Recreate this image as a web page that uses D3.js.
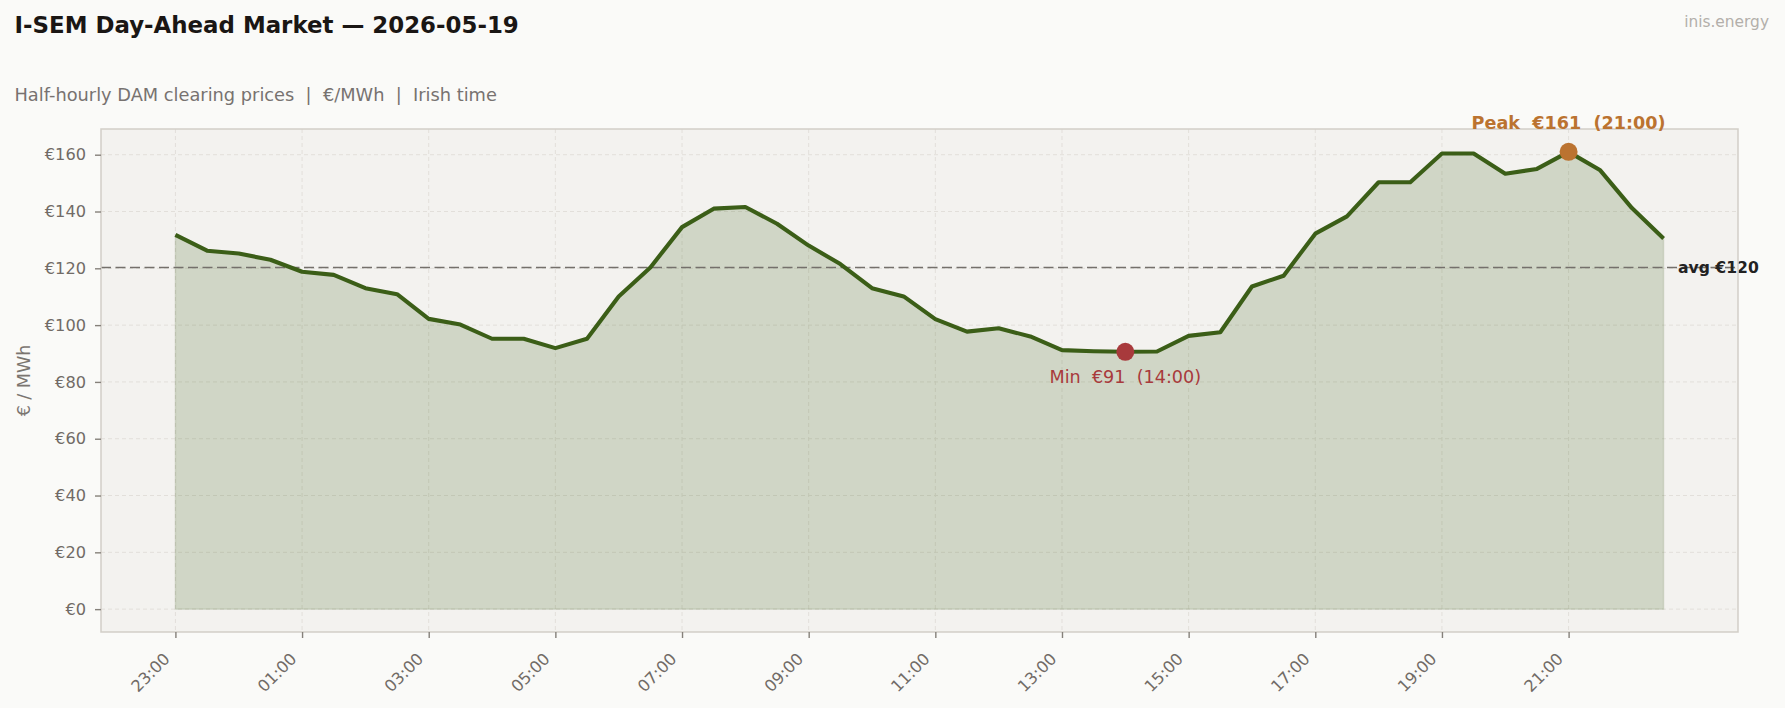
<!DOCTYPE html>
<html>
<head>
<meta charset="utf-8">
<script src="https://cdn.jsdelivr.net/npm/d3@7"></script>
<style>
    html, body { margin: 0; padding: 0; background: #fafaf8; }
    svg text { font-family: 'DejaVu Sans', sans-serif; white-space: pre; }
</style>
</head>
<body>
<svg id="chart"></svg>
<script>
// half-hourly slots, Irish time (trading day starts 23:00)
const times = [
    '23:00', '23:30', '00:00', '00:30', '01:00', '01:30', '02:00', '02:30',
    '03:00', '03:30', '04:00', '04:30', '05:00', '05:30', '06:00', '06:30',
    '07:00', '07:30', '08:00', '08:30', '09:00', '09:30', '10:00', '10:30',
    '11:00', '11:30', '12:00', '12:30', '13:00', '13:30', '14:00', '14:30',
    '15:00', '15:30', '16:00', '16:30', '17:00', '17:30', '18:00', '18:30',
    '19:00', '19:30', '20:00', '20:30', '21:00', '21:30', '22:00', '22:30'
];
// €/MWh
const prices = [
    131.8, 126.2, 125.2, 123.0, 118.8, 117.7, 113.0, 110.9,
    102.2, 100.2, 95.2, 95.2, 91.9, 95.2, 110.1, 120.3,
    134.5, 141.0, 141.6, 135.7, 128.0, 121.5, 113.0, 110.1,
    102.1, 97.7, 98.9, 96.0, 91.2, 90.8, 90.6, 90.7,
    96.2, 97.5, 113.6, 117.4, 132.2, 138.3, 150.3, 150.3,
    160.4, 160.4, 153.3, 155.0, 161.0, 154.5, 141.2, 130.5
];
const xTickLabels = ['23:00', '01:00', '03:00', '05:00', '07:00', '09:00', '11:00', '13:00', '15:00', '17:00', '19:00', '21:00'];
const yTickValues = [0, 20, 40, 60, 80, 100, 120, 140, 160];

const W = 1785, H = 708;
const frame = { left: 101, top: 129, right: 1738, bottom: 632 };
const green = '#3b5e17';

const data = prices.map((p, i) => ({ i: i, t: times[i], p: p }));

const svg = d3.select('#chart').attr('width', W).attr('height', H);

// titles
svg.append('text').attr('x', 14.5).attr('y', 33.3)
    .attr('font-size', 22.9).attr('font-weight', 'bold').attr('fill', '#1a1614')
    .text('I-SEM Day-Ahead Market — 2026-05-19');
svg.append('text').attr('x', 14.5).attr('y', 101)
    .attr('font-size', 17.8).attr('fill', '#777270')
    .text('Half-hourly DAM clearing prices  |  €/MWh  |  Irish time');
svg.append('text').attr('x', 1769).attr('y', 27).attr('text-anchor', 'end')
    .attr('font-size', 15.4).attr('fill', '#b3afaa')
    .text('inis.energy');

// scales (5% padding like the original)
const n = prices.length - 1;
const xScale = d3.scaleLinear()
    .domain([-0.05 * n, n * 1.05])
    .range([frame.left, frame.right]);
const yMax = d3.max(prices);
const yScale = d3.scaleLinear()
    .domain([-0.05 * yMax, yMax * 1.05])
    .range([frame.bottom, frame.top]);

// plot background
svg.append('rect')
    .attr('x', frame.left).attr('y', frame.top)
    .attr('width', frame.right - frame.left).attr('height', frame.bottom - frame.top)
    .attr('fill', '#f3f2ef');

const xTickIdx = xTickLabels.map(l => times.indexOf(l));

// grid
const grid = svg.append('g').attr('class', 'grid')
    .attr('stroke', '#e2dfda').attr('stroke-width', 1).attr('stroke-dasharray', '4,3');
grid.selectAll('.gy').data(yTickValues).enter().append('line')
    .attr('x1', frame.left).attr('x2', frame.right)
    .attr('y1', d => yScale(d)).attr('y2', d => yScale(d));
grid.selectAll('.gx').data(xTickIdx).enter().append('line')
    .attr('y1', frame.top).attr('y2', frame.bottom)
    .attr('x1', d => xScale(d)).attr('x2', d => xScale(d));

// area + line
const area = d3.area()
    .x(d => xScale(d.i))
    .y0(yScale(0))
    .y1(d => yScale(d.p));
svg.append('path').datum(data)
    .attr('d', area)
    .attr('fill', green).attr('fill-opacity', 0.19)
    .attr('stroke', green).attr('stroke-opacity', 0.12).attr('stroke-width', 1.5);

// average line
const avg = d3.mean(prices);
svg.append('line')
    .attr('x1', frame.left).attr('x2', frame.right)
    .attr('y1', yScale(avg)).attr('y2', yScale(avg))
    .attr('stroke', '#74706b').attr('stroke-width', 1.5).attr('stroke-dasharray', '10,4.5');

const line = d3.line()
    .x(d => xScale(d.i))
    .y(d => yScale(d.p));
svg.append('path').datum(data)
    .attr('d', line)
    .attr('fill', 'none').attr('stroke', green)
    .attr('stroke-width', 4.1).attr('stroke-linejoin', 'round');

svg.append('text')
    .attr('x', xScale(n) + 14.5).attr('y', yScale(avg))
    .attr('dy', '0.35em').attr('font-size', 15.6).attr('font-weight', 'bold').attr('fill', '#222')
    .text('avg €' + Math.round(avg));

// frame
svg.append('rect')
    .attr('x', frame.left).attr('y', frame.top)
    .attr('width', frame.right - frame.left).attr('height', frame.bottom - frame.top)
    .attr('fill', 'none').attr('stroke', '#d2cec7').attr('stroke-width', 1.5);

// axes
const yAxis = d3.axisLeft(yScale)
    .tickValues(yTickValues)
    .tickFormat(d => '€' + d)
    .tickSize(6).tickPadding(9);
const yAxisG = svg.append('g')
    .attr('transform', `translate(${frame.left},0)`)
    .call(yAxis);

const xAxis = d3.axisBottom(xScale)
    .tickValues(xTickIdx)
    .tickFormat(d => times[d])
    .tickSize(6);
const xAxisG = svg.append('g')
    .attr('transform', `translate(0,${frame.bottom})`)
    .call(xAxis);

[yAxisG, xAxisG].forEach(g => {
    g.select('.domain').remove();
    g.selectAll('.tick line').attr('stroke', '#85807a').attr('stroke-width', 1.4);
    g.selectAll('.tick text').attr('fill', '#716b66').attr('font-size', 16.2)
        .attr('font-family', "'DejaVu Sans', sans-serif");
});
xAxisG.selectAll('.tick text')
    .attr('text-anchor', 'end')
    .attr('dy', 0).attr('y', 0)
    .attr('transform', 'translate(-5,28) rotate(-45)');

svg.append('text')
    .attr('transform', `translate(23.5,${(frame.top + frame.bottom) / 2}) rotate(-90)`)
    .attr('text-anchor', 'middle').attr('dy', '0.35em')
    .attr('font-size', 17.5).attr('fill', '#7a7570')
    .text('€ / MWh');

// peak & min markers
const iMax = d3.maxIndex(prices);
const iMin = d3.minIndex(prices);

svg.append('circle')
    .attr('cx', xScale(iMax)).attr('cy', yScale(prices[iMax])).attr('r', 9)
    .attr('fill', '#bb7330');
svg.append('text')
    .attr('x', xScale(iMax)).attr('y', yScale(prices[iMax]) - 23)
    .attr('text-anchor', 'middle').attr('font-size', 17.6).attr('font-weight', 'bold')
    .attr('fill', '#bb7330')
    .text(`Peak  €${Math.round(prices[iMax])}  (${times[iMax]})`);

svg.append('circle')
    .attr('cx', xScale(iMin)).attr('cy', yScale(prices[iMin])).attr('r', 9)
    .attr('fill', '#a83a3c');
svg.append('text')
    .attr('x', xScale(iMin)).attr('y', yScale(prices[iMin]) + 31)
    .attr('text-anchor', 'middle').attr('font-size', 17.6)
    .attr('fill', '#a83a3c')
    .text(`Min  €${Math.round(prices[iMin])}  (${times[iMin]})`);
</script>
</body>
</html>
